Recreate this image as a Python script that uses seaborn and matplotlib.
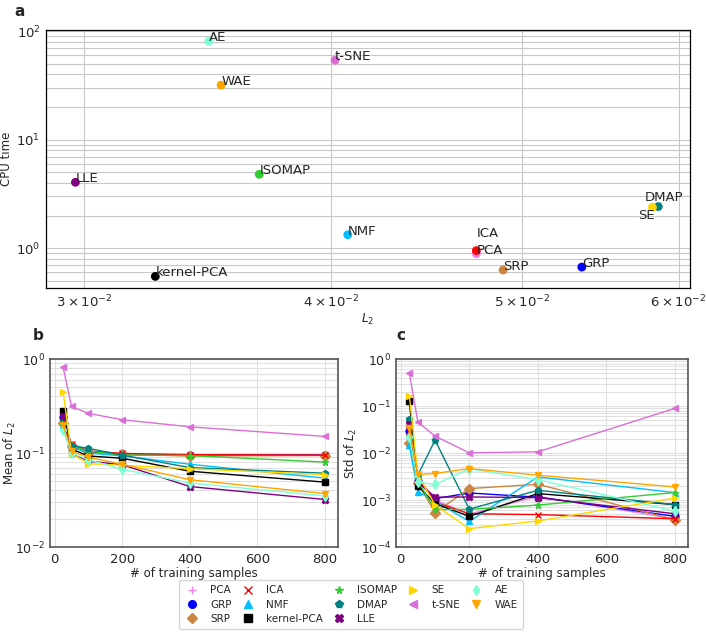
import numpy as np
import pandas as pd
import matplotlib
matplotlib.use('Agg')
import matplotlib.pyplot as plt
from matplotlib.lines import Line2D
import seaborn as sns

# methods, colours, markers
methods = ['PCA', 'GRP', 'SRP', 'ICA', 'NMF', 'kernel-PCA', 'ISOMAP', 'DMAP',
           'LLE', 'SE', 't-SNE', 'AE', 'WAE']
colors = ['violet', 'blue', 'peru', 'red', 'deepskyblue', 'black', 'limegreen',
          'teal', 'purple', 'gold', 'orchid', 'aquamarine', 'orange']
markers = ['+', 'o', 'D', 'x', '^', 's', '*', 'p', 'X', '>', '<', 'd', 'v']

# panel a: L2 vs CPU time
l2_a = [0.0474, 0.0536, 0.0489, 0.0474, 0.0408, 0.0326, 0.0368, 0.0586,
        0.0297, 0.0582, 0.0402, 0.0347, 0.0352]
cpu_a = [0.89, 0.67, 0.63, 0.95, 1.33, 0.55, 4.8, 2.42,
         4.05, 2.38, 54.0, 81.0, 31.8]

# panels b, c: vs number of training samples
n_train = [25, 50, 100, 200, 400, 800]
mean_l2 = {
    'PCA':        [0.21, 0.120, 0.104, 0.098, 0.095, 0.095],
    'GRP':        [0.24, 0.118, 0.103, 0.097, 0.095, 0.095],
    'SRP':        [0.21, 0.120, 0.100, 0.097, 0.093, 0.094],
    'ICA':        [0.215, 0.125, 0.105, 0.099, 0.096, 0.095],
    'NMF':        [0.20, 0.115, 0.100, 0.093, 0.076, 0.054],
    'kernel-PCA': [0.28, 0.110, 0.093, 0.088, 0.064, 0.049],
    'ISOMAP':     [0.20, 0.120, 0.105, 0.095, 0.094, 0.080],
    'DMAP':       [0.22, 0.120, 0.112, 0.095, 0.070, 0.061],
    'LLE':        [0.25, 0.100, 0.082, 0.075, 0.044, 0.032],
    'SE':         [0.45, 0.098, 0.077, 0.074, 0.068, 0.059],
    't-SNE':      [0.82, 0.313, 0.264, 0.226, 0.190, 0.150],
    'AE':         [0.175, 0.100, 0.085, 0.067, 0.048, 0.035],
    'WAE':        [0.20, 0.105, 0.090, 0.076, 0.052, 0.037],
}
std_l2 = {
    'PCA':        [0.020, 0.0030, 0.0010, 0.00050, 0.0012, 0.00040],
    'GRP':        [0.029, 0.0025, 0.00107, 0.00141, 0.00115, 0.00045],
    'SRP':        [0.016, 0.0023, 0.00054, 0.00175, 0.00217, 0.00038],
    'ICA':        [0.030, 0.0030, 0.00090, 0.00051, 0.00049, 0.00040],
    'NMF':        [0.0145, 0.0015, 0.00095, 0.00035, 0.0031, 0.00144],
    'kernel-PCA': [0.127, 0.0020, 0.00084, 0.00045, 0.00137, 0.00080],
    'ISOMAP':     [0.0228, 0.0025, 0.00063, 0.00063, 0.00078, 0.00144],
    'DMAP':       [0.052, 0.0034, 0.0188, 0.00064, 0.00161, 0.00080],
    'LLE':        [0.041, 0.0024, 0.00115, 0.00116, 0.00113, 0.00051],
    'SE':         [0.165, 0.0035, 0.00078, 0.000246, 0.000358, 0.00110],
    't-SNE':      [0.495, 0.0454, 0.0229, 0.0101, 0.0106, 0.0888],
    'AE':         [0.022, 0.0024, 0.00214, 0.0046, 0.00272, 0.00058],
    'WAE':        [0.034, 0.0035, 0.00366, 0.00468, 0.00337, 0.0019],
}

palette = dict(zip(methods, colors))
marker_map = dict(zip(methods, markers))

df_a = pd.DataFrame({'method': methods, 'L2': l2_a, 'cpu': cpu_a})

rows = []
for m in methods:
    for n, mu, sd in zip(n_train, mean_l2[m], std_l2[m]):
        rows.append((m, n, mu, sd))
df_n = pd.DataFrame(rows, columns=['method', 'n', 'mean', 'std'])

sns.set_style('white')
plt.rcParams['font.family'] = ['DejaVu Sans']

fig = plt.figure(figsize=(7.06, 6.38), dpi=100)
ax_a = fig.add_axes([0.0652, 0.5486, 0.912, 0.404])
ax_b = fig.add_axes([0.0708, 0.1426, 0.408, 0.2947])
ax_c = fig.add_axes([0.561, 0.1426, 0.4136, 0.2947])

# a
sns.scatterplot(data=df_a, x='L2', y='cpu', hue='method', palette=palette,
                s=40, edgecolor='none', legend=False, ax=ax_a, zorder=3)
ax_a.set_xscale('log')
ax_a.set_yscale('log')
ax_a.set_xlim(0.0287, 0.0608)
ax_a.set_ylim(0.43, 102)
ax_a.grid(True, which='both', color='#c8c8c8', lw=0.8)
offsets = {'ICA': (0, 14), 'SE': (2, -12), 'DMAP': (-14, 6)}
for m, x, y in zip(methods, l2_a, cpu_a):
    dx, dy = offsets.get(m, (0, 0))
    ha = 'right' if m == 'SE' else 'left'
    ax_a.annotate(m, (x, y), xytext=(dx, dy), textcoords='offset pixels',
                  ha=ha, va='baseline', fontsize=9.5)
ax_a.set_xlabel('$L_2$', fontsize=8.5, labelpad=1)
ax_a.set_ylabel('CPU time', fontsize=8.5, labelpad=2)
ax_a.tick_params(labelsize=9.5, which='both', length=2.5, pad=1.5)
for s in ax_a.spines.values():
    s.set_color('black')
    s.set_linewidth(0.9)

# b, c
for ax, col, ylab, ylim in [(ax_b, 'mean', 'Mean of $L_2$', (1e-2, 1)),
                            (ax_c, 'std', 'Std of $L_2$', (1e-4, 1))]:
    for m in methods:
        sub = df_n[df_n['method'] == m]
        sns.lineplot(data=sub, x='n', y=col, color=palette[m], marker=marker_map[m],
                     markersize=5, markeredgecolor=palette[m], markeredgewidth=1,
                     linewidth=1, ax=ax)
    ax.set_yscale('log')
    ax.set_ylim(*ylim)
    ax.set_xticks([0, 200, 400, 600, 800])
    ax.grid(True, which='both', color='#e0e0e0', lw=0.8)
    ax.set_xlabel('# of training samples', fontsize=8.5, labelpad=1)
    ax.set_ylabel(ylab, fontsize=8.5, labelpad=1)
    ax.tick_params(axis='x', labelsize=9.5, which='major', length=2.5, pad=1.5)
    ax.tick_params(axis='y', labelsize=9, which='major', length=2.5, pad=1.2)
    ax.tick_params(which='minor', length=0)
    for s in ax.spines.values():
        s.set_color('#555555')
        s.set_linewidth(1.2)
ax_b.yaxis.set_label_coords(-0.112, 0.5)

fig.text(0.02, 0.994, 'a', fontsize=11, fontweight='bold', va='top')
fig.text(0.046, 0.474, 'b', fontsize=11, fontweight='bold', va='center')
fig.text(0.562, 0.474, 'c', fontsize=11, fontweight='bold', va='center')

handles = [Line2D([], [], linestyle='none', marker=mk, color=c, markeredgecolor=c,
                  markersize=5.5) for mk, c in zip(markers, colors)]
fig.legend(handles, methods, loc='lower center', bbox_to_anchor=(0.497, 0.006),
           ncol=5, fontsize=7.5, frameon=True, handlelength=1.5, handletextpad=1.0,
           columnspacing=0.8, borderpad=0.5, labelspacing=0.4)

fig.savefig('out.png', dpi=100)
